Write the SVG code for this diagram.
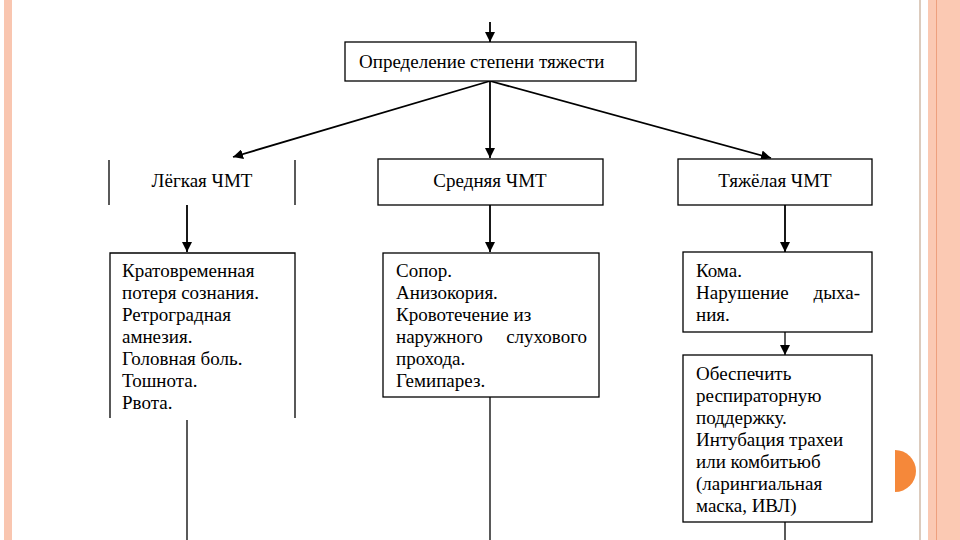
<svg xmlns="http://www.w3.org/2000/svg" width="960" height="540" viewBox="0 0 960 540">
<style>
.box{fill:#fff;stroke:#000;stroke-width:1.3}
.side{stroke:#000;stroke-width:1.3;fill:none}
.t{font-family:'Liberation Serif','Times New Roman','DejaVu Serif',serif;font-size:19px;fill:#000}
.c{text-anchor:middle}
.e{text-anchor:end}
.ln{stroke:#000;stroke-width:1.8;fill:none}
.pl{stroke:#000;stroke-width:1.3;fill:none}
</style>
<defs>
<marker id="ah" viewBox="0 0 10 10" refX="10" refY="5" markerWidth="10" markerHeight="10" markerUnits="userSpaceOnUse" orient="auto">
<path d="M0,0 L10,5 L0,10 Z" fill="#000"/>
</marker>
</defs>
<rect width="960" height="540" fill="#fff"/>
<rect x="4" y="0" width="8" height="540" fill="#f9c6b0"/>
<rect x="919" y="0" width="2" height="540" fill="#dccbbd"/>
<rect x="928" y="0" width="32" height="540" fill="#fbc9b3"/>
<rect x="936" y="0" width="1" height="540" fill="#eea07e"/>
<path d="M895,450 A21,21 0 0 1 895,492 Z" fill="#f5883a"/>

<g id="connectors">
<line class="ln" x1="490" y1="22" x2="490" y2="42" marker-end="url(#ah)"/>
<line class="ln" x1="490" y1="81" x2="233" y2="157" marker-end="url(#ah)"/>
<line class="ln" x1="490" y1="81" x2="490" y2="158" marker-end="url(#ah)"/>
<line class="ln" x1="490" y1="81" x2="771" y2="158" marker-end="url(#ah)"/>
<line class="ln" x1="187" y1="205" x2="187" y2="252" marker-end="url(#ah)"/>
<line class="ln" x1="490" y1="205" x2="490" y2="252" marker-end="url(#ah)"/>
<line class="ln" x1="785" y1="205" x2="785" y2="252" marker-end="url(#ah)"/>
<line class="pl" x1="785" y1="332" x2="785" y2="355" marker-end="url(#ah)"/>
<line class="pl" x1="187" y1="420" x2="187" y2="540"/>
<line class="pl" x1="490" y1="370" x2="490" y2="540"/>
<line class="pl" x1="785" y1="522" x2="785" y2="540"/>
</g>

<g id="root">
<rect class="box" x="345" y="42" width="291" height="39"/>
<text class="t" x="359" y="68">Определение степени тяжести</text>
</g>

<g id="mild">
<line class="side" x1="109" y1="160" x2="109" y2="205"/>
<line class="side" x1="295" y1="160" x2="295" y2="205"/>
<text class="t c" x="202" y="187">Лёгкая ЧМТ</text>
</g>

<g id="moderate">
<rect class="box" x="378" y="159" width="225" height="46"/>
<text class="t c" x="490" y="187">Средняя ЧМТ</text>
</g>

<g id="severe">
<rect class="box" x="678" y="159" width="194" height="46"/>
<text class="t c" x="775" y="187">Тяжёлая ЧМТ</text>
</g>

<g id="mild-signs">
<path class="side" d="M110,418 V253 H295 V418"/>
<text class="t" x="122" y="277">Кратовременная</text>
<text class="t" x="122" y="299">потеря сознания.</text>
<text class="t" x="122" y="321">Ретроградная</text>
<text class="t" x="122" y="343">амнезия.</text>
<text class="t" x="122" y="365">Головная боль.</text>
<text class="t" x="122" y="387">Тошнота.</text>
<text class="t" x="122" y="409">Рвота.</text>
</g>

<g id="moderate-signs">
<rect class="box" x="383" y="253" width="216" height="144"/>
<text class="t" x="396" y="277">Сопор.</text>
<text class="t" x="396" y="299">Анизокория.</text>
<text class="t" x="396" y="321">Кровотечение из</text>
<text class="t" x="396" y="343">наружного</text>
<text class="t e" x="587" y="343">слухового</text>
<text class="t" x="396" y="365">прохода.</text>
<text class="t" x="396" y="387">Гемипарез.</text>
</g>

<g id="severe-signs">
<rect class="box" x="683" y="252" width="189" height="80"/>
<text class="t" x="696" y="277">Кома.</text>
<text class="t" x="696" y="299">Нарушение</text>
<text class="t e" x="860" y="299">дыха-</text>
<text class="t" x="696" y="321">ния.</text>
</g>

<g id="severe-care">
<rect class="box" x="683" y="355" width="189" height="167"/>
<text class="t" x="696" y="380">Обеспечить</text>
<text class="t" x="696" y="402">респираторную</text>
<text class="t" x="696" y="424">поддержку.</text>
<text class="t" x="696" y="446">Интубация трахеи</text>
<text class="t" x="696" y="468">или комбитьюб</text>
<text class="t" x="696" y="490">(ларингиальная</text>
<text class="t" x="696" y="512">маска, ИВЛ)</text>
</g>
</svg>
